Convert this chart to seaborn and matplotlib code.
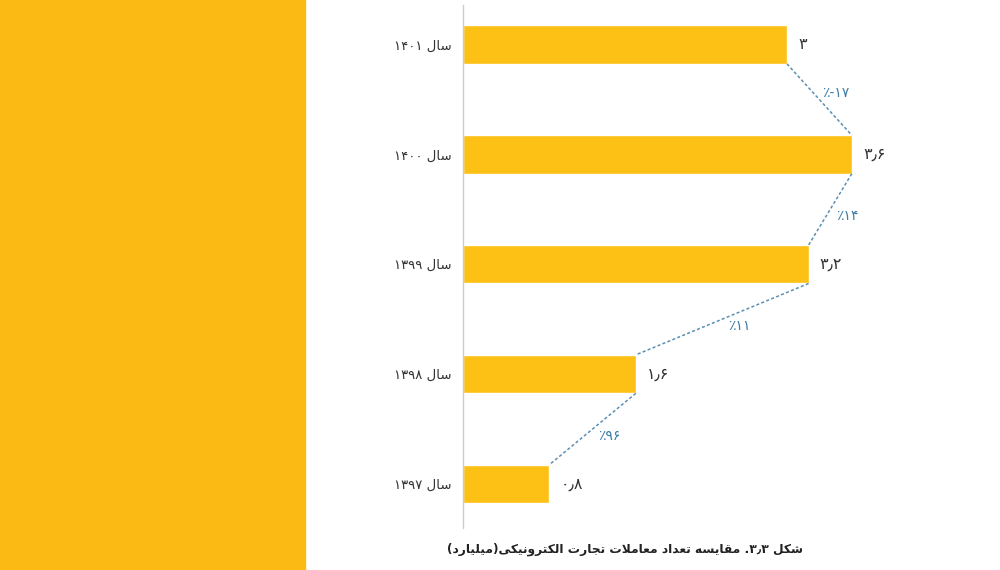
import numpy as np
import pandas as pd
import matplotlib
matplotlib.use('Agg')
import matplotlib.pyplot as plt
from matplotlib.patches import Rectangle
import seaborn as sns
import re

# data (top to bottom)
years = ['۱۴۰۱', '۱۴۰۰', '۱۳۹۹', '۱۳۹۸', '۱۳۹۷']
values = [3.0, 3.6, 3.2, 1.6, 0.8]
value_labels = ['۳', '۳٫۶', '۳٫۲', '۱٫۶', '۰٫۸']
change_labels = ['٪-۱۷', '٪۱۴', '٪۱۱', '٪۹۶']   # already in visual order
caption = 'شکل ۳٫۳. مقایسه تعداد معاملات تجارت الکترونیکی(میلیارد)'

# small persian shaper: contextual forms + right-to-left visual order
FORMS = {
    'ا': ('\uFE8D', '\uFE8E', None, None),
    'د': ('\uFEA9', '\uFEAA', None, None),
    'ر': ('\uFEAD', '\uFEAE', None, None),
    'و': ('\uFEED', '\uFEEE', None, None),
    'ت': ('\uFE95', '\uFE96', '\uFE97', '\uFE98'),
    'ج': ('\uFE9D', '\uFE9E', '\uFE9F', '\uFEA0'),
    'س': ('\uFEB1', '\uFEB2', '\uFEB3', '\uFEB4'),
    'ش': ('\uFEB5', '\uFEB6', '\uFEB7', '\uFEB8'),
    'ع': ('\uFEC9', '\uFECA', '\uFECB', '\uFECC'),
    'ق': ('\uFED5', '\uFED6', '\uFED7', '\uFED8'),
    'ل': ('\uFEDD', '\uFEDE', '\uFEDF', '\uFEE0'),
    'م': ('\uFEE1', '\uFEE2', '\uFEE3', '\uFEE4'),
    'ن': ('\uFEE5', '\uFEE6', '\uFEE7', '\uFEE8'),
    'ه': ('\uFEE9', '\uFEEA', '\uFEEB', '\uFEEC'),
    'ی': ('\uFBFC', '\uFBFD', '\uFBFE', '\uFBFF'),
    'ک': ('\uFB8E', '\uFB8F', '\uFB90', '\uFB91'),
}


def joins_left(ch):
    return ch in FORMS and FORMS[ch][2] is not None


def farsi(s):
    out = []
    i = 0
    while i < len(s):
        ch = s[i]
        if ch not in FORMS:
            out.append(ch)
            i += 1
            continue
        prev = s[i - 1] if i > 0 else ''
        nxt = s[i + 1] if i + 1 < len(s) else ''
        p = joins_left(prev)
        if ch == 'ل' and nxt == 'ا':
            out.append('\uFEFC' if p else '\uFEFB')
            i += 2
            continue
        n = joins_left(ch) and nxt in FORMS
        iso, fin, ini, med = FORMS[ch]
        if p and n:
            out.append(med)
        elif p:
            out.append(fin)
        elif n:
            out.append(ini)
        else:
            out.append(iso)
        i += 1
    vis = ''.join(out)[::-1]
    vis = re.sub('[۰-۹٫]+', lambda m: m.group(0)[::-1], vis)
    return vis.translate(str.maketrans('()', ')('))


labels = [farsi('سال ' + y) for y in years]
df = pd.DataFrame({'label': labels, 'value': values})

sns.set_style('white')
plt.rcParams['font.family'] = ['DejaVu Sans']

fig = plt.figure(figsize=(10, 5.7), dpi=100)
fig.patches.append(Rectangle((0, 0), 0.305, 1, transform=fig.transFigure,
                             color='#FCBB14', zorder=0))
ax = fig.add_axes([0.463, 0.074, 0.54, 0.917])

bar_color = '#FDC015'
sns.barplot(data=df, x='value', y='label', orient='h', color=bar_color,
            saturation=1, width=0.35, ax=ax)
ax.set_xlim(0, 5)
ax.set_ylim(4.4, -0.36)

for i, (v, t) in enumerate(zip(values, value_labels)):
    ax.annotate(t, (v, i), xytext=(8, 0), textcoords='offset points',
                va='center', ha='left', fontsize=11.5, color='#333333')

half = 0.175
line_color = '#5B8FB3'
for i in range(len(values) - 1):
    x0, y0 = values[i], i + half
    x1, y1 = values[i + 1], i + 1 - half
    ax.plot([x0, x1], [y0, y1], color=line_color, lw=1.1,
            linestyle=(0, (2, 1.5)))
    dy = 5 if values[i + 1] > values[i] else -5
    ax.annotate(change_labels[i], ((x0 + x1) / 2, (y0 + y1) / 2),
                xytext=(12, dy), textcoords='offset points',
                ha='center', va='center', fontsize=10, color='#3D7CA6')

ax.set_xlabel('')
ax.set_ylabel('')
ax.set_xticks([])
ax.tick_params(axis='y', length=0, pad=8, labelsize=9.5, labelcolor='#333333')
for s in ['top', 'right', 'bottom']:
    ax.spines[s].set_visible(False)
ax.spines['left'].set_color('#CCCCCC')
ax.spines['left'].set_linewidth(1)

fig.text(0.625, 0.037, farsi(caption), ha='center', va='center',
         fontsize=8.8, fontweight='bold', color='#222222')

fig.savefig('out.png', dpi=100)
